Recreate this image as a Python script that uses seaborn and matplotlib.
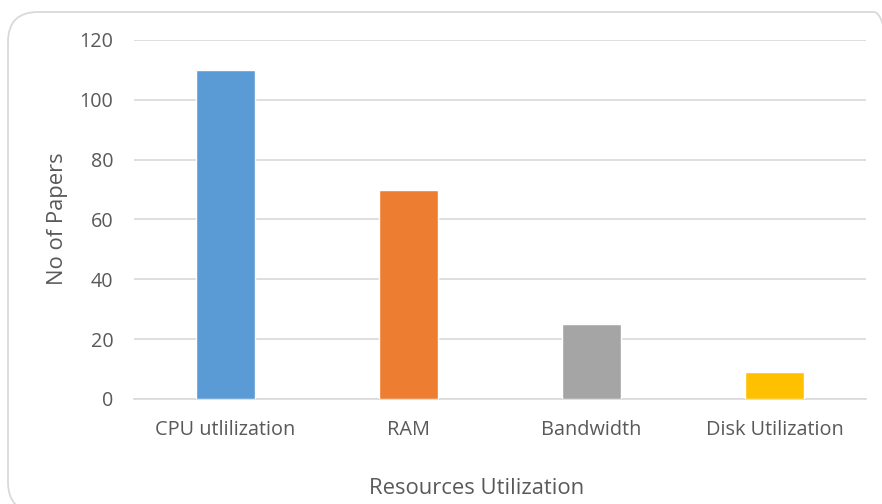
import matplotlib
matplotlib.use("Agg")
import matplotlib.pyplot as plt
from matplotlib.patches import FancyBboxPatch
import seaborn as sns
import pandas as pd

categories = ["CPU utlilization", "RAM", "Bandwidth", "Disk Utilization"]
papers = [110, 70, 25, 9]
bar_colors = ["#5B9BD5", "#ED7D31", "#A5A5A5", "#FFC000"]
y_ticks = [0, 20, 40, 60, 80, 100, 120]

sns.set_theme(style="white")
plt.rcParams["font.family"] = ["Open Sans", "DejaVu Sans"]

W, H = 882, 504
fig = plt.figure(figsize=(W / 100, H / 100), dpi=100)
fig.patch.set_facecolor("white")

# Rounded chart frame
x0, y0, x1, y1 = 8, 12, 904, 512
frame = FancyBboxPatch((x0 / W, 1 - y1 / H), (x1 - x0) / W, (y1 - y0) / H,
                       boxstyle="round,pad=0,rounding_size=0.034",
                       transform=fig.transFigure, facecolor="none",
                       edgecolor="#D9D9D9", linewidth=1.3, mutation_aspect=W / H,
                       zorder=-1)
fig.patches.append(frame)

ax = fig.add_axes([134 / W, 1 - 399 / H, (866 - 134) / W, (399 - 40) / H])
ax.set_facecolor("none")

df = pd.DataFrame({"Resource": categories, "Papers": papers})
sns.barplot(data=df, x="Resource", y="Papers", hue="Resource",
            palette=bar_colors, width=0.317, legend=False, ax=ax,
            saturation=1, zorder=3)

ax.set_ylim(0, 120)
ax.set_yticks(y_ticks)
ax.yaxis.grid(True, color="#D9D9D9", linewidth=1.2, zorder=0)
ax.set_axisbelow(True)
for s in ["left", "right", "top"]:
    ax.spines[s].set_visible(False)
ax.spines["bottom"].set_color("#D9D9D9")
ax.spines["bottom"].set_linewidth(1.2)

text_color = "#595959"
ax.tick_params(axis="y", length=0, pad=15, labelsize=14.2, labelcolor=text_color)
ax.tick_params(axis="x", length=0, pad=15, labelsize=14.3, labelcolor=text_color)
ax.set_xlabel("")
ax.set_ylabel("")

fig.text(477 / W, 1 - 489 / H, "Resources Utilization", ha="center", va="center",
         fontsize=15.8, color=text_color)
fig.text(57 / W, 1 - 219 / H, "No of Papers", ha="center", va="center",
         rotation=90, fontsize=15.8, color=text_color)

fig.savefig("out.png", dpi=100)
